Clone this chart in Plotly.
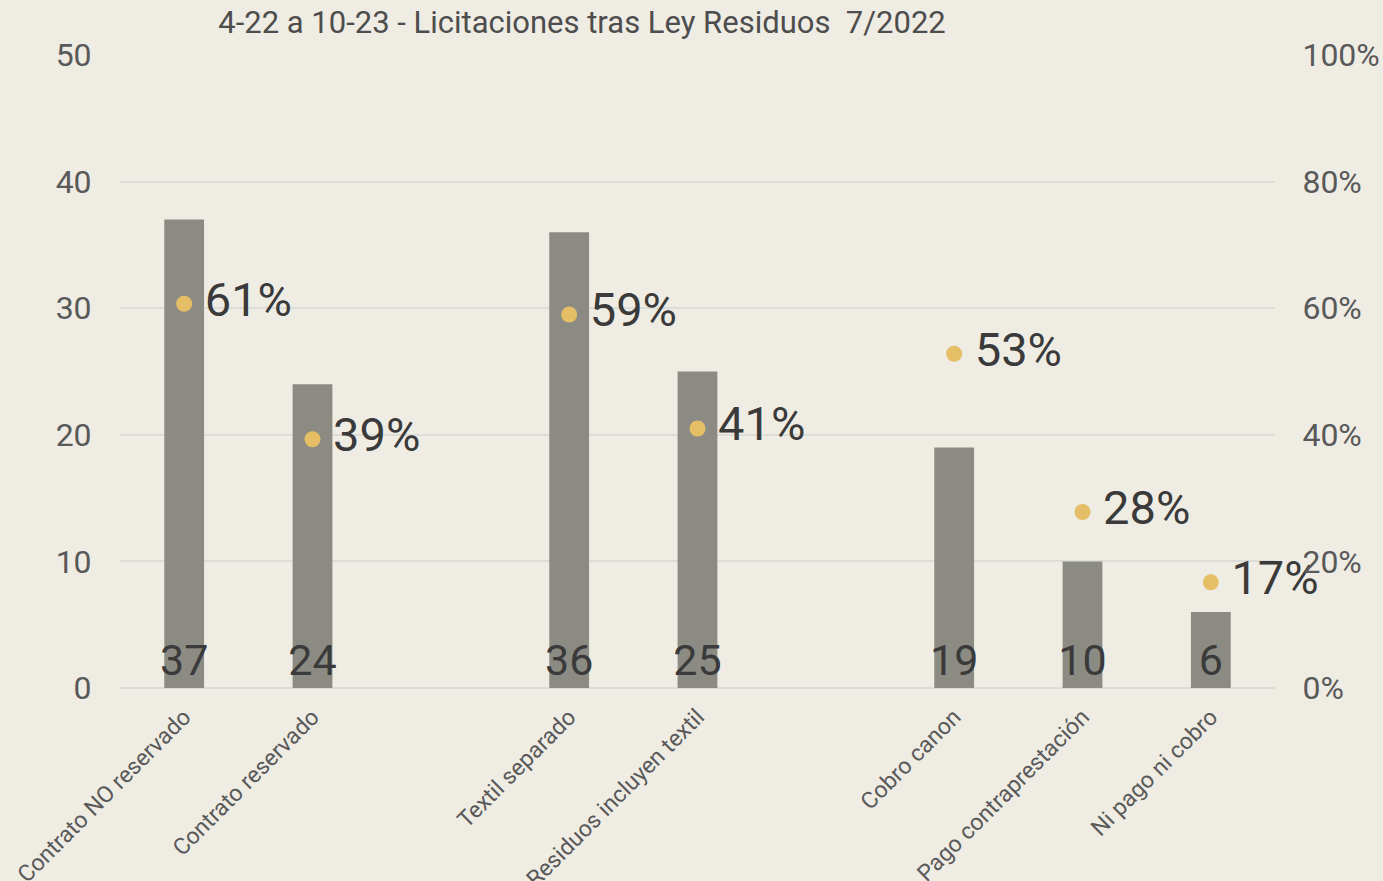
import plotly.graph_objects as go

categories = ["Contrato NO reservado", "Contrato reservado", " ",
              "Textil separado", "Residuos incluyen textil", "  ",
              "Cobro canon", "Pago contraprestación", "Ni pago ni cobro"]
counts = [37, 24, None, 36, 25, None, 19, 10, 6]
shares = [0.607, 0.393, None, 0.590, 0.410, None, 0.528, 0.278, 0.167]
left_ticks = [0, 10, 20, 30, 40, 50]
right_ticks = [0, 0.2, 0.4, 0.6, 0.8, 1.0]
right_tick_labels = ["0%", "20%", "40%", "60%", "80%", "100%"]
title_text = "4-22 a 10-23 - Licitaciones tras Ley Residuos  7/2022"

BG = "#EFECE4"
FONT = "Roboto"

fig = go.Figure()
fig.add_trace(go.Bar(
    x=categories, y=counts, width=0.31,
    marker=dict(color="#8B8B84", line=dict(width=0)),
    text=[("" if v is None else str(v)) for v in counts],
    textposition="inside", insidetextanchor="start", constraintext="none",
    textfont=dict(size=43, color="#3A3A3A", family=FONT),
    cliponaxis=False, showlegend=False, hoverinfo="skip",
))
fig.add_trace(go.Scatter(
    x=categories, y=shares, yaxis="y2", mode="markers+text",
    marker=dict(size=16, color="#E6BE66"),
    text=[("" if v is None else f"\u2009{round(v*100)}%") for v in shares],
    textposition="middle right",
    textfont=dict(size=47, color="#3A3A3A", family=FONT),
    cliponaxis=False, showlegend=False, hoverinfo="skip",
))

fig.update_layout(
    width=1383, height=881,
    paper_bgcolor=BG, plot_bgcolor=BG,
    margin=dict(l=120, r=108, t=55, b=193, autoexpand=False),
    font=dict(family=FONT, color="#595959"),
    title=dict(text=title_text, x=582/1383, xanchor="center", xref="container",
               y=1-22/881, yanchor="middle", yref="container",
               font=dict(size=31, color="#4D4D4D", family=FONT)),
    xaxis=dict(type="category", categoryorder="array", categoryarray=categories,
               range=[-0.5, len(categories) - 0.5],
               tickangle=-45, tickfont=dict(size=23, color="#595959"),
               showgrid=False, showline=False, ticks="", ticklen=0,
               ticklabelstandoff=10, automargin=False),
    yaxis=dict(range=[0, 50], tickvals=left_ticks, showgrid=True,
               gridcolor="#DCDCD8", gridwidth=2, zeroline=True,
               zerolinecolor="#DCDCD8", zerolinewidth=2,
               tickfont=dict(size=32, color="#595959"),
               ticks="outside", ticklen=21, tickcolor="rgba(0,0,0,0)",
               automargin=False),
    yaxis2=dict(range=[0, 1], overlaying="y", side="right",
                tickvals=right_ticks, ticktext=right_tick_labels,
                showgrid=False, zeroline=False,
                tickfont=dict(size=32, color="#595959"),
                ticks="outside", ticklen=20, tickcolor="rgba(0,0,0,0)",
                automargin=False),
    bargap=0.69,
)

fig.write_html(
    "out.html",
    config={"displayModeBar": False},
    post_script="document.body.style.margin='0';document.body.style.overflow='hidden';"
                "document.body.style.background='" + BG + "';",
)
